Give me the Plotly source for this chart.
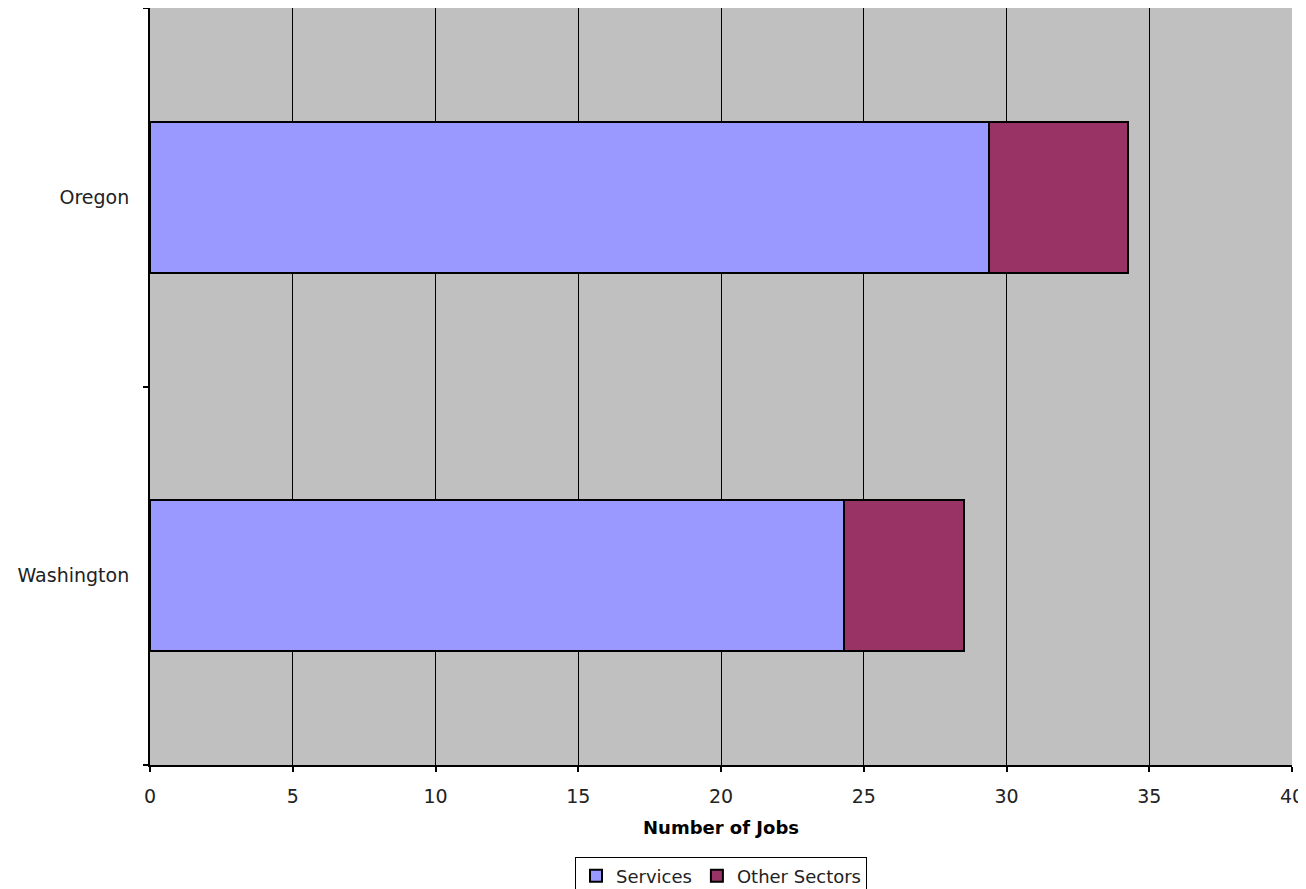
import plotly.graph_objects as go

states = ["Washington", "Oregon"]
services = [24.3, 29.4]
other_sectors = [4.2, 4.85]
x_ticks = [0, 5, 10, 15, 20, 25, 30, 35, 40]

font_family = "Verdana, DejaVu Sans, sans-serif"

fig = go.Figure()
fig.add_trace(go.Bar(
    y=states, x=services, orientation="h", name="Services",
    marker=dict(color="#9999FF", line=dict(color="black", width=2)),
))
fig.add_trace(go.Bar(
    y=states, x=other_sectors, orientation="h", name="Other Sectors",
    marker=dict(color="#993366", line=dict(color="black", width=2)),
))

fig.update_layout(
    barmode="stack",
    bargap=0.6,
    width=1298, height=881,
    margin=dict(l=142, r=14, t=0, b=124, autoexpand=False),
    plot_bgcolor="#C0C0C0",
    paper_bgcolor="white",
    font=dict(family=font_family, size=19, color="#222222"),
    legend=dict(
        orientation="h", x=0.5, xanchor="center", y=-0.121, yanchor="top",
        bordercolor="black", borderwidth=1, bgcolor="white",
        font=dict(size=18, color="#222222"), itemwidth=30, traceorder="normal",
    ),
    xaxis=dict(
        range=[0, 40], tickvals=x_ticks, ticks="outside", ticklen=5, tickwidth=2,
        tickcolor="black", showline=True, linecolor="black", linewidth=2,
        showgrid=True, gridcolor="black", gridwidth=1, zeroline=False,
        automargin=False, ticklabeloverflow="allow",
        title=dict(text="<b>Number of Jobs</b>", standoff=16,
                   font=dict(size=18, color="black")),
        ticklabelstandoff=8,
    ),
    yaxis=dict(
        type="category", categoryorder="array", categoryarray=states,
        tickson="boundaries", ticks="outside", ticklen=5, tickwidth=2,
        tickcolor="black", showline=True, linecolor="black", linewidth=2,
        showgrid=False, ticklabelstandoff=15, automargin=False,
    ),
)

fig.write_html("out.html")
